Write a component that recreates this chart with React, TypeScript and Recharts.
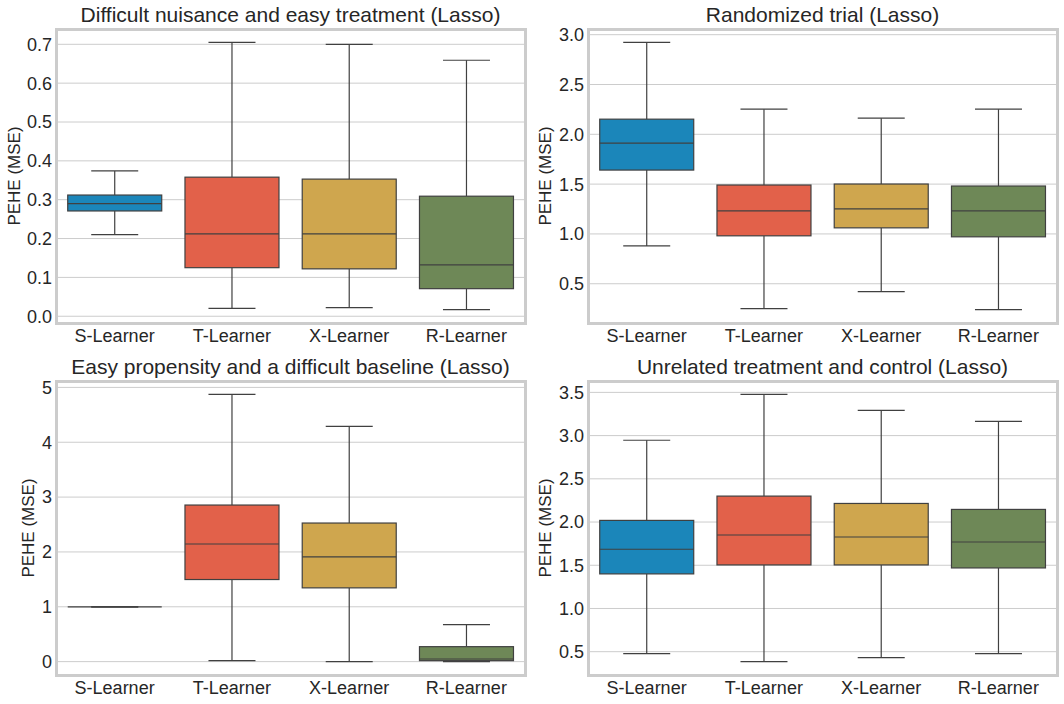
import { Bar, CartesianGrid, ComposedChart, XAxis, YAxis } from "recharts";

const LEARNERS = ["S-Learner", "T-Learner", "X-Learner", "R-Learner"];
const COLORS = ["#1b86ba", "#e2614a", "#cfa64e", "#6e8857"];

// Difficult nuisance and easy treatment (Lasso)
const nuisanceLow = [0.21, 0.02, 0.022, 0.017];
const nuisanceQ1 = [0.271, 0.125, 0.122, 0.071];
const nuisanceMedian = [0.29, 0.212, 0.212, 0.132];
const nuisanceQ3 = [0.312, 0.358, 0.353, 0.309];
const nuisanceHigh = [0.374, 0.705, 0.7, 0.659];
const nuisanceTicks = [0, 0.1, 0.2, 0.3, 0.4, 0.5, 0.6, 0.7];

// Randomized trial (Lasso)
const trialLow = [0.88, 0.25, 0.42, 0.24];
const trialQ1 = [1.641, 0.981, 1.061, 0.971];
const trialMedian = [1.912, 1.231, 1.251, 1.231];
const trialQ3 = [2.152, 1.491, 1.501, 1.481];
const trialHigh = [2.923, 2.252, 2.162, 2.252];
const trialTicks = [0.5, 1, 1.5, 2, 2.5, 3];

// Easy propensity and a difficult baseline (Lasso)
const propensityLow = [1, 0.018, 0, 0];
const propensityQ1 = [1, 1.497, 1.345, 0.018];
const propensityMedian = [1, 2.145, 1.909, 0.048];
const propensityQ3 = [1, 2.855, 2.527, 0.273];
const propensityHigh = [1, 4.873, 4.291, 0.673];
const propensityTicks = [0, 1, 2, 3, 4, 5];

// Unrelated treatment and control (Lasso)
const unrelatedLow = [0.477, 0.385, 0.431, 0.477];
const unrelatedQ1 = [1.4, 1.504, 1.504, 1.469];
const unrelatedMedian = [1.685, 1.85, 1.827, 1.769];
const unrelatedQ3 = [2.019, 2.3, 2.215, 2.146];
const unrelatedHigh = [2.946, 3.477, 3.292, 3.165];
const unrelatedTicks = [0.5, 1, 1.5, 2, 2.5, 3, 3.5];

const FONT = "'Liberation Sans', Arial, sans-serif";
const TEXT = "#262626";
const LINE = "#404040";
const PANEL_W = 532;
const PANEL_H = 352;
const MARGIN = { top: 29, right: 7, bottom: 0, left: 0 };
const Y_W = 56;
const X_H = 29;

function rows(low, q1, median, q3, high) {
  return LEARNERS.map((name, i) => ({
    name,
    range: [low[i], high[i]],
    low: low[i],
    q1: q1[i],
    median: median[i],
    q3: q3[i],
    high: high[i],
    color: COLORS[i],
  }));
}

/** box + whiskers, positioned from the [low, high] range bar recharts lays out */
function BoxShape(props) {
  const { x, y, width, height, payload } = props;
  const top = Math.min(y, y + height);
  const bottom = Math.max(y, y + height);
  const span = payload.high - payload.low;
  const py = (v) => (span > 0 ? bottom - ((v - payload.low) / span) * (bottom - top) : top);
  const cx = x + width / 2;
  const cap = width / 4;
  const yq1 = py(payload.q1);
  const yq3 = py(payload.q3);
  return (
    <g stroke={LINE} strokeWidth={1.2}>
      <line x1={cx} x2={cx} y1={py(payload.high)} y2={yq3} />
      <line x1={cx} x2={cx} y1={yq1} y2={py(payload.low)} />
      <line x1={cx - cap} x2={cx + cap} y1={py(payload.high)} y2={py(payload.high)} />
      <line x1={cx - cap} x2={cx + cap} y1={py(payload.low)} y2={py(payload.low)} />
      <rect x={x} y={yq3} width={width} height={yq1 - yq3} fill={payload.color} />
      <line x1={x} x2={x + width} y1={py(payload.median)} y2={py(payload.median)} />
    </g>
  );
}

function Panel({ title, data, ticks, decimals, left, top, labelX }) {
  const lo = Math.min(...data.map((d) => d.low));
  const hi = Math.max(...data.map((d) => d.high));
  const pad = (hi - lo) * 0.05;
  const plotW = PANEL_W - MARGIN.left - MARGIN.right - Y_W;
  const plotH = PANEL_H - MARGIN.top - MARGIN.bottom - X_H;
  const plotX = MARGIN.left + Y_W;
  return (
    <div style={{ position: "absolute", left, top, width: PANEL_W, height: PANEL_H }}>
      <div
        style={{
          position: "absolute",
          top: 4,
          left: plotX,
          width: plotW,
          textAlign: "center",
          fontSize: 21,
          lineHeight: "21px",
          color: TEXT,
          whiteSpace: "nowrap",
        }}
      >
        {title}
      </div>
      <ComposedChart width={PANEL_W} height={PANEL_H} data={data} margin={MARGIN} barCategoryGap="10%">
        <CartesianGrid vertical={false} stroke="#cccccc" strokeWidth={1} />
        <XAxis
          dataKey="name"
          interval={0}
          axisLine={false}
          tickLine={false}
          tickSize={0}
          tickMargin={6}
          height={X_H}
          tick={{ fontSize: 18, fill: TEXT, fontFamily: FONT }}
        />
        <YAxis
          type="number"
          domain={[lo - pad, hi + pad]}
          ticks={ticks}
          tickFormatter={(v) => Number(v).toFixed(decimals)}
          axisLine={false}
          tickLine={false}
          tickSize={0}
          tickMargin={4}
          width={Y_W}
          tick={{ fontSize: 18, fill: TEXT, fontFamily: FONT }}
          label={({ viewBox }) => {
            const cy = viewBox.y + viewBox.height / 2;
            return (
              <text
                x={labelX}
                y={cy}
                transform={`rotate(-90, ${labelX}, ${cy})`}
                textAnchor="middle"
                dominantBaseline="central"
                fontSize={17}
                fill={TEXT}
                fontFamily={FONT}
              >
                PEHE (MSE)
              </text>
            );
          }}
        />
        <Bar dataKey="range" shape={BoxShape} isAnimationActive={false} />
      </ComposedChart>
      <div
        style={{
          position: "absolute",
          left: plotX - 1.5,
          top: MARGIN.top - 1.5,
          width: plotW + 3,
          height: plotH + 3,
          border: "3px solid #cccccc",
          boxSizing: "border-box",
          pointerEvents: "none",
        }}
      />
    </div>
  );
}

export default function App() {
  return (
    <div
      style={{
        position: "absolute",
        left: 0,
        top: 0,
        width: 1064,
        height: 704,
        background: "#ffffff",
        fontFamily: FONT,
        overflow: "hidden",
      }}
    >
      <Panel
        title="Difficult nuisance and easy treatment (Lasso)"
        data={rows(nuisanceLow, nuisanceQ1, nuisanceMedian, nuisanceQ3, nuisanceHigh)}
        ticks={nuisanceTicks}
        decimals={1}
        left={0}
        top={0}
        labelX={14}
      />
      <Panel
        title="Randomized trial (Lasso)"
        data={rows(trialLow, trialQ1, trialMedian, trialQ3, trialHigh)}
        ticks={trialTicks}
        decimals={1}
        left={532}
        top={0}
        labelX={13.5}
      />
      <Panel
        title="Easy propensity and a difficult baseline (Lasso)"
        data={rows(propensityLow, propensityQ1, propensityMedian, propensityQ3, propensityHigh)}
        ticks={propensityTicks}
        decimals={0}
        left={0}
        top={352}
        labelX={28}
      />
      <Panel
        title="Unrelated treatment and control (Lasso)"
        data={rows(unrelatedLow, unrelatedQ1, unrelatedMedian, unrelatedQ3, unrelatedHigh)}
        ticks={unrelatedTicks}
        decimals={1}
        left={532}
        top={352}
        labelX={13.5}
      />
    </div>
  );
}
